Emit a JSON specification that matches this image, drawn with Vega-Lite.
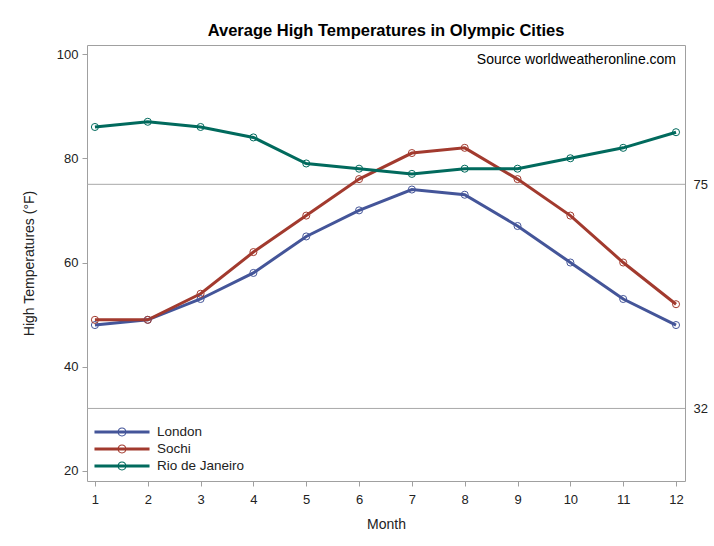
{
  "$schema": "https://vega.github.io/schema/vega-lite/v6.json",
  "width": 598,
  "height": 436,
  "autosize": "none",
  "padding": {"left": 87, "top": 45, "right": 29, "bottom": 65},
  "background": "white",
  "title": {"text": "Average High Temperatures in Olympic Cities", "font": "Liberation Sans", "fontSize": 16.5, "fontWeight": "bold", "color": "#000000", "anchor": "middle", "offset": 6},
  "config": {
    "view": {"stroke": "#a0a0a0", "strokeWidth": 1},
    "axis": {"labelFont": "Liberation Sans", "labelFontSize": 13, "labelColor": "#222222", "titleFont": "Liberation Sans", "titleFontSize": 14, "titleFontWeight": "normal", "titleColor": "#222222", "tickColor": "#a0a0a0", "domain": false, "grid": false},
    "legend": {"labelFont": "Liberation Sans", "labelFontSize": 13.5, "labelColor": "#222222"}
  },
  "datasets": {
    "temps": [
      {"month": 1, "city": "London", "temp": 48},
      {"month": 2, "city": "London", "temp": 49},
      {"month": 3, "city": "London", "temp": 53},
      {"month": 4, "city": "London", "temp": 58},
      {"month": 5, "city": "London", "temp": 65},
      {"month": 6, "city": "London", "temp": 70},
      {"month": 7, "city": "London", "temp": 74},
      {"month": 8, "city": "London", "temp": 73},
      {"month": 9, "city": "London", "temp": 67},
      {"month": 10, "city": "London", "temp": 60},
      {"month": 11, "city": "London", "temp": 53},
      {"month": 12, "city": "London", "temp": 48},
      {"month": 1, "city": "Sochi", "temp": 49},
      {"month": 2, "city": "Sochi", "temp": 49},
      {"month": 3, "city": "Sochi", "temp": 54},
      {"month": 4, "city": "Sochi", "temp": 62},
      {"month": 5, "city": "Sochi", "temp": 69},
      {"month": 6, "city": "Sochi", "temp": 76},
      {"month": 7, "city": "Sochi", "temp": 81},
      {"month": 8, "city": "Sochi", "temp": 82},
      {"month": 9, "city": "Sochi", "temp": 76},
      {"month": 10, "city": "Sochi", "temp": 69},
      {"month": 11, "city": "Sochi", "temp": 60},
      {"month": 12, "city": "Sochi", "temp": 52},
      {"month": 1, "city": "Rio de Janeiro", "temp": 86},
      {"month": 2, "city": "Rio de Janeiro", "temp": 87},
      {"month": 3, "city": "Rio de Janeiro", "temp": 86},
      {"month": 4, "city": "Rio de Janeiro", "temp": 84},
      {"month": 5, "city": "Rio de Janeiro", "temp": 79},
      {"month": 6, "city": "Rio de Janeiro", "temp": 78},
      {"month": 7, "city": "Rio de Janeiro", "temp": 77},
      {"month": 8, "city": "Rio de Janeiro", "temp": 78},
      {"month": 9, "city": "Rio de Janeiro", "temp": 78},
      {"month": 10, "city": "Rio de Janeiro", "temp": 80},
      {"month": 11, "city": "Rio de Janeiro", "temp": 82},
      {"month": 12, "city": "Rio de Janeiro", "temp": 85}
    ],
    "refs": [{"value": 75}, {"value": 32}],
    "src": [{"label": "Source worldweatheronline.com"}]
  },
  "layer": [
    {
      "data": {"name": "refs"},
      "mark": {"type": "rule", "color": "#a8a8a8", "strokeWidth": 1},
      "encoding": {
        "y": {"field": "value", "type": "quantitative", "scale": {"domain": [18.08, 101.73], "nice": false, "zero": false},
          "axis": {"orient": "right", "values": [32, 75], "title": null, "ticks": false, "tickSize": 0, "labelPadding": 8}}
      }
    },
    {
      "data": {"name": "temps"},
      "mark": {"type": "line", "strokeWidth": 3, "point": {"filled": false, "size": 50, "strokeWidth": 1}},
      "encoding": {
        "x": {"field": "month", "type": "quantitative", "scale": {"domain": [0.85, 12.17], "nice": false, "zero": false},
          "axis": {"title": "Month", "values": [1,2,3,4,5,6,7,8,9,10,11,12], "tickSize": 5, "labelPadding": 7, "titlePadding": 11}},
        "y": {"field": "temp", "type": "quantitative", "scale": {"domain": [18.08, 101.73], "nice": false, "zero": false},
          "axis": {"orient": "left", "title": "High Temperatures (°F)", "values": [20, 40, 60, 80, 100], "tickSize": 5, "labelPadding": 4, "titlePadding": 20}},
        "color": {"field": "city", "type": "nominal", "sort": ["London", "Sochi", "Rio de Janeiro"],
          "scale": {"domain": ["London", "Sochi", "Rio de Janeiro"], "range": ["#445599", "#a23a2e", "#016a5d"]},
          "legend": {"title": null, "orient": "bottom-left", "offset": 8, "padding": 0, "rowPadding": 2,
            "symbolType": "M-3.44,-0.19L3.44,-0.19L3.44,0.19L-3.44,0.19Z M0.56,0A0.56,0.56,0,1,1,-0.56,0A0.56,0.56,0,1,1,0.56,0Z M0.44,0A0.44,0.44,0,1,0,-0.44,0A0.44,0.44,0,1,0,0.44,0Z",
            "symbolSize": 256, "symbolStrokeWidth": 0, "symbolOffset": 19, "labelOffset": 27,
            "encode": {"symbols": {"update": {"fill": {"scale": "color", "field": "value"}, "strokeWidth": {"value": 0}, "opacity": {"value": 1}}}}}
        }
      }
    },
    {
      "data": {"name": "src"},
      "mark": {"type": "text", "align": "right", "baseline": "middle", "font": "Liberation Sans", "fontSize": 14, "color": "#000000"},
      "encoding": {
        "x": {"datum": 12, "type": "quantitative"},
        "y": {"datum": 98.85, "type": "quantitative", "axis": null},
        "text": {"field": "label"}
      }
    }
  ],
  "resolve": {"axis": {"y": "independent"}}
}
